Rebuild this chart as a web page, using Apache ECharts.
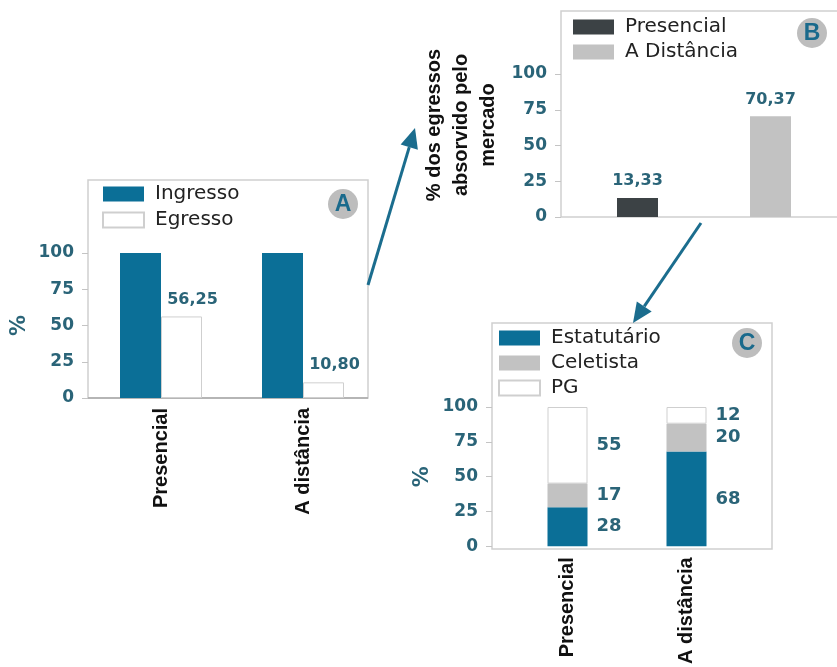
<!DOCTYPE html>
<html>
<head>
<meta charset="utf-8">
<script src="https://cdn.jsdelivr.net/npm/echarts@6/dist/echarts.min.js"></script>
<style>
html,body{margin:0;padding:0;background:#fff;}
#main{width:837px;height:667px;}
</style>
</head>
<body>
<div id="main"></div>
<script>
// dados dos tres graficos
var catA = ['Presencial', 'A distância'];
var ingresso = [100, 100];
var egresso = [56.25, 10.80];

var catB = ['Presencial', 'A Distância'];
var absorvido = [13.33, 70.37];

var catC = ['Presencial', 'A distância'];
var estatutario = [28, 68];
var celetista = [17, 20];
var pg = [55, 12];

var yTicks = [0, 25, 50, 75, 100];

var TEAL = '#0b6f97';
var LBL = '#2a6478';
var FONT = 'DejaVu Sans, Verdana, sans-serif';
var BOLD = 'Liberation Sans, Arial, sans-serif';

function fmt(v){ return v.toFixed(2).replace('.', ','); }

function yAx(grid, off, name, gap){
  return {
    type:'value', gridIndex:grid, min:0, max:100, interval:25, offset:off,
    name:name, nameLocation:'middle', nameGap:gap, nameRotate:90,
    nameTextStyle:{color:LBL, fontSize:21, fontWeight:'bold', fontFamily:FONT},
    axisLine:{show:false}, splitLine:{show:false},
    axisTick:{show:true, length:6, lineStyle:{color:'#c4c4c4'}},
    axisLabel:{margin:14, color:LBL, fontSize:17, fontWeight:'bold', fontFamily:FONT,
      formatter:function(v){ return yTicks.indexOf(v) >= 0 ? v : ''; }}
  };
}
function xAx(grid, data, show, margin){
  return {
    type:'category', gridIndex:grid, data:data,
    axisLine:{show:false}, axisTick:{show:false},
    axisLabel:{show:show, rotate:90, margin:margin, color:'#111', fontWeight:'bold', fontSize:20, fontFamily:BOLD}
  };
}
function legendBox(top, left, gap, names){
  return {
    orient:'vertical', top:top, left:left, padding:0, icon:'rect',
    itemWidth:41, itemHeight:15, itemGap:gap,
    data:names, textStyle:{fontSize:20, color:'#222', fontFamily:FONT, padding:[0, 0, 0, 6]},
    selectedMode:false
  };
}
function badge(x, y, t){
  return {type:'group', children:[
    {type:'circle', shape:{cx:x, cy:y, r:15}, style:{fill:'#bdbdbd'}},
    {type:'text', x:x, y:y+1, style:{text:t, fill:'#1a6a8c', font:'bold 23px ' + BOLD, textAlign:'center', textVerticalAlign:'middle'}}
  ]};
}
function arrow(x1, y1, x2, y2){
  var a = Math.atan2(y2 - y1, x2 - x1), L = 20, W = 9;
  var bx = x2 - L * Math.cos(a), by = y2 - L * Math.sin(a);
  var px = -Math.sin(a) * W, py = Math.cos(a) * W;
  return {type:'group', children:[
    {type:'line', shape:{x1:x1, y1:y1, x2:bx, y2:by}, style:{stroke:'#1b6d8e', lineWidth:3}},
    {type:'polygon', shape:{points:[[x2, y2], [bx + px, by + py], [bx - px, by - py]]}, style:{fill:'#1b6d8e'}}
  ]};
}

var valLabel = {show:true, position:'top', distance:9, color:LBL, fontSize:16, fontWeight:'bold', fontFamily:FONT,
  formatter:function(p){ return fmt(p.value); }};
var segLabel = {show:true, position:'right', distance:9, color:LBL, fontSize:18, fontWeight:'bold', fontFamily:FONT};

var chart = echarts.init(document.getElementById('main'));
chart.setOption({
  animation:false,
  textStyle:{fontFamily:FONT},
  grid:[
    {left:90, top:253, width:284, height:145},
    {left:571, top:74, width:272, height:143},
    {left:508, top:407, width:238, height:142}
  ],
  xAxis:[xAx(0, catA, true, 10), xAx(1, catB, false, 8), xAx(2, catC, true, 11)],
  yAxis:[yAx(0, 2, '%', 58), yAx(1, 10, '', 50), yAx(2, 16, '%', 59)],
  legend:[
    legendBox(184, 102, 6, ['Ingresso', 'Egresso']),
    legendBox(17, 573, 5, ['Presencial', 'A Distância']),
    legendBox(328, 498, 5, ['Estatutário', 'Celetista', 'PG'])
  ],
  series:[
    {name:'Ingresso', type:'bar', xAxisIndex:0, yAxisIndex:0, data:ingresso, barWidth:41, barGap:'0%',
      itemStyle:{color:TEAL}},
    {name:'Egresso', type:'bar', xAxisIndex:0, yAxisIndex:0, data:egresso, barWidth:41, barGap:'0%',
      itemStyle:{color:'#fff', borderColor:'#cfcfcf', borderWidth:1},
      label:Object.assign({}, valLabel, {offset:[11, 0]})},
    {name:'Presencial', type:'bar', xAxisIndex:1, yAxisIndex:1, stack:'b', barWidth:41,
      data:[absorvido[0], '-'], itemStyle:{color:'#3c4245'}, label:valLabel},
    {name:'A Distância', type:'bar', xAxisIndex:1, yAxisIndex:1, stack:'b', barWidth:41,
      data:['-', absorvido[1]], itemStyle:{color:'#c2c2c2'}, label:valLabel},
    {name:'Estatutário', type:'bar', xAxisIndex:2, yAxisIndex:2, stack:'c', barWidth:40, data:estatutario,
      itemStyle:{color:TEAL}, label:segLabel},
    {name:'Celetista', type:'bar', xAxisIndex:2, yAxisIndex:2, stack:'c', barWidth:40, data:celetista,
      itemStyle:{color:'#c2c2c2'}, label:segLabel},
    {name:'PG', type:'bar', xAxisIndex:2, yAxisIndex:2, stack:'c', barWidth:40, data:pg,
      itemStyle:{color:'#fff', borderColor:'#cfcfcf', borderWidth:1}, label:segLabel}
  ],
  graphic:[
    {type:'rect', z:-1, shape:{x:88, y:180, width:280, height:218}, style:{fill:'none', stroke:'#d0d0d0', lineWidth:1.5}},
    {type:'line', z:-1, shape:{x1:88, y1:398, x2:368, y2:398}, style:{stroke:'#a8a8a8', lineWidth:1.5}},
    {type:'rect', z:-1, shape:{x:561, y:11, width:300, height:206}, style:{fill:'none', stroke:'#d0d0d0', lineWidth:1.5}},
    {type:'rect', z:-1, shape:{x:492, y:323, width:280, height:226}, style:{fill:'none', stroke:'#d0d0d0', lineWidth:1.5}},
    badge(343, 204, 'A'),
    badge(812, 33, 'B'),
    badge(747, 343, 'C'),
    {type:'text', x:461, y:125, rotation:Math.PI / 2,
      style:{text:'% dos egressos\nabsorvido pelo\nmercado', fill:'#111', font:'bold 20px ' + BOLD,
        lineHeight:27, textAlign:'center', textVerticalAlign:'middle'}},
    arrow(368, 285, 415, 128),
    arrow(701, 223, 633, 323)
  ]
});
</script>
</body>
</html>
